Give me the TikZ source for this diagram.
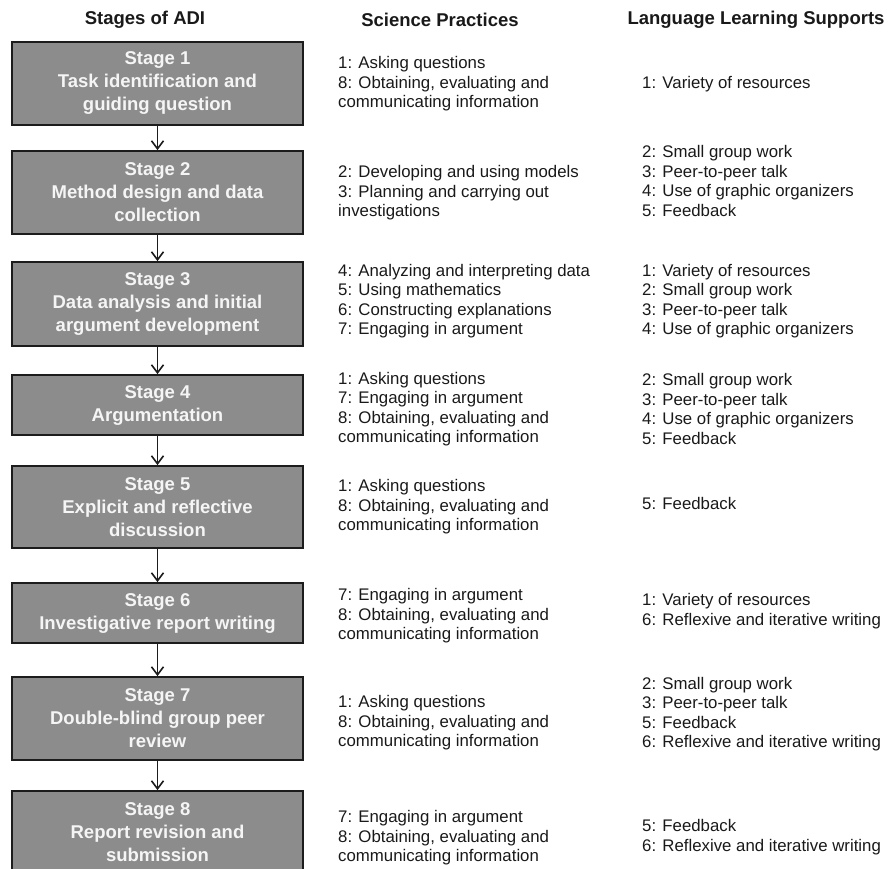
\documentclass[tikz,border=0pt]{standalone}
\usepackage{fontspec}
\setmainfont{Liberation Sans}
\usetikzlibrary{arrows.meta}
\definecolor{boxgray}{RGB}{140,140,140}
\definecolor{boxedge}{RGB}{28,28,28}
\definecolor{ink}{RGB}{25,25,25}
\definecolor{boxtext}{RGB}{245,245,245}
\begin{document}
\begin{tikzpicture}[x=1pt,y=-1pt,
  stagebox/.style={draw=boxedge, line width=1.8pt, fill=boxgray, minimum width=291pt,
    text=boxtext, font=\bfseries\fontsize{18.5}{23}\selectfont, align=center, inner sep=0pt},
  head/.style={font=\bfseries\fontsize{18.5}{22}\selectfont, text=ink, inner sep=0pt},
  item/.style={anchor=west, align=left, inner sep=0pt, font=\fontsize{16.8}{19.5}\selectfont, text=ink},
  flow/.style={-{Straight Barb[length=8pt,width=12pt,line width=1.6pt]}, line width=1.6pt, draw=boxedge}]
\useasboundingbox (0,0) rectangle (891,869);

% column headings
\node[head] (h1) at (145,20) {Stages of ADI};
\node[head] (h2) at (440,20) {Science Practices};
\node[head] (h3) at (756,20) {Language Learning Supports};

% stage boxes
\node[stagebox, minimum height=83pt] (s1) at (157.5,83.5) {Stage 1\\Task identification and\\guiding question};
\node[stagebox, minimum height=83pt] (s2) at (157.5,192.5) {Stage 2\\Method design and data\\collection};
\node[stagebox, minimum height=84pt] (s3) at (157.5,304) {Stage 3\\Data analysis and initial\\argument development};
\node[stagebox, minimum height=60pt] (s4) at (157.5,405) {Stage 4\\Argumentation};
\node[stagebox, minimum height=82pt] (s5) at (157.5,507) {Stage 5\\Explicit and reflective\\discussion};
\node[stagebox, minimum height=60pt] (s6) at (157.5,613) {Stage 6\\Investigative report writing};
\node[stagebox, minimum height=83pt] (s7) at (157.5,718.5) {Stage 7\\Double-blind group peer\\review};
\node[stagebox, minimum height=83pt] (s8) at (157.5,832.5) {Stage 8\\Report revision and\\submission};

% arrows between stages
\foreach \a/\b in {s1/s2,s2/s3,s3/s4,s4/s5,s5/s6,s6/s7,s7/s8}
  \draw[flow] (\a.south) -- (\b.north);

% science practices
\node[item] (p1) at (338,84) {1: Asking questions\\8: Obtaining, evaluating and\\communicating information};
\node[item] (p2) at (338,193) {2: Developing and using models\\3: Planning and carrying out\\investigations};
\node[item] (p3) at (338,301) {4: Analyzing and interpreting data\\5: Using mathematics\\6: Constructing explanations\\7: Engaging in argument};
\node[item] (p4) at (338,409) {1: Asking questions\\7: Engaging in argument\\8: Obtaining, evaluating and\\communicating information};
\node[item] (p5) at (338,507) {1: Asking questions\\8: Obtaining, evaluating and\\communicating information};
\node[item] (p6) at (338,616) {7: Engaging in argument\\8: Obtaining, evaluating and\\communicating information};
\node[item] (p7) at (338,723) {1: Asking questions\\8: Obtaining, evaluating and\\communicating information};
\node[item] (p8) at (338,838) {7: Engaging in argument\\8: Obtaining, evaluating and\\communicating information};

% language learning supports
\node[item] (l1) at (642,84) {1: Variety of resources};
\node[item] (l2) at (642,181) {2: Small group work\\3: Peer-to-peer talk\\4: Use of graphic organizers\\5: Feedback};
\node[item] (l3) at (642,301) {1: Variety of resources\\2: Small group work\\3: Peer-to-peer talk\\4: Use of graphic organizers};
\node[item] (l4) at (642,409) {2: Small group work\\3: Peer-to-peer talk\\4: Use of graphic organizers\\5: Feedback};
\node[item] (l5) at (642,503) {5: Feedback};
\node[item] (l6) at (642,611) {1: Variety of resources\\6: Reflexive and iterative writing};
\node[item] (l7) at (642,714) {2: Small group work\\3: Peer-to-peer talk\\5: Feedback\\6: Reflexive and iterative writing};
\node[item] (l8) at (642,837) {5: Feedback\\6: Reflexive and iterative writing};
\end{tikzpicture}
\end{document}
